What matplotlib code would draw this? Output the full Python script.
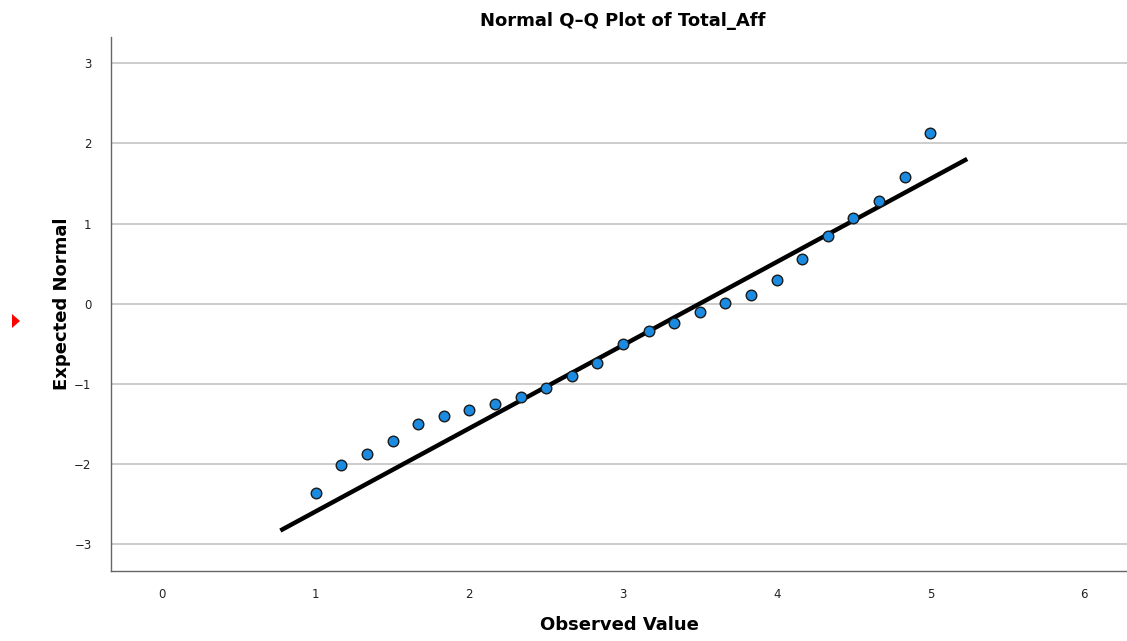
import numpy as np
import matplotlib
matplotlib.use("Agg")
import matplotlib.pyplot as plt
from matplotlib.patches import Polygon

# Observed scores and their expected normal quantiles
observed = [1.0, 1.1667, 1.3333, 1.5, 1.6667, 1.8333, 2.0, 2.1667, 2.3333,
            2.5, 2.6667, 2.8333, 3.0, 3.1667, 3.3333, 3.5, 3.6667, 3.8333,
            4.0, 4.1667, 4.3333, 4.5, 4.6667, 4.8333, 5.0]
expected = [-2.37, -2.01, -1.88, -1.71, -1.51, -1.41, -1.33, -1.26, -1.17,
            -1.06, -0.91, -0.74, -0.51, -0.34, -0.24, -0.10, 0.01, 0.11,
            0.30, 0.56, 0.84, 1.07, 1.28, 1.58, 2.13]

# Reference line parameters (sample mean and standard deviation)
ref_mean = 3.50
ref_sd = 0.963
ref_x = [0.77, 5.24]

x_ticks = [0, 1, 2, 3, 4, 5, 6]
y_ticks = [-3, -2, -1, 0, 1, 2, 3]

fig = plt.figure(figsize=(11.27, 6.41), dpi=100)
ax = fig.add_axes([0.0985, 0.1092, 0.9015, 0.8331])

ax.set_xlim(-0.332, 6.28)
ax.set_ylim(-3.34, 3.33)

for t in y_ticks:
    ax.axhline(t, color="#c8c8c8", lw=1.3, zorder=0)

line_x = np.array(ref_x)
ax.plot(line_x, (line_x - ref_mean) / ref_sd, color="black", lw=3.2,
        solid_capstyle="butt", zorder=2)
ax.scatter(observed, expected, s=58, facecolor="#1a8be0", edgecolor="#1a1a1a",
           linewidths=1.0, zorder=3)

ax.set_xticks(x_ticks)
ax.set_yticks(y_ticks)
ax.set_xticklabels([str(t) for t in x_ticks])
ax.set_yticklabels([str(t).replace("-", "\u2212") for t in y_ticks])
ax.tick_params(length=0, labelsize=8.5, colors="#222222", pad=12)
ax.tick_params(axis="y", pad=14)

for side in ("top", "right"):
    ax.spines[side].set_visible(False)
for side in ("left", "bottom"):
    ax.spines[side].set_color("#666666")
    ax.spines[side].set_linewidth(1.0)

ax.set_xlabel("Observed Value", fontsize=13, fontweight="bold", labelpad=11)
ax.set_ylabel("Expected Normal", fontsize=13, fontweight="bold", labelpad=2)
fig.text(0.5525, 0.968, "Normal Q\u2013Q Plot of Total_Aff", ha="center",
         va="center", fontsize=13, fontweight="bold")

# Small red marker at the left margin
fig.add_artist(Polygon([[12 / 1127, 1 - 314 / 641], [12 / 1127, 1 - 328 / 641],
                        [20 / 1127, 1 - 321 / 641]], closed=True,
                       transform=fig.transFigure, color="red", lw=0))

fig.savefig("out.png", dpi=100)
